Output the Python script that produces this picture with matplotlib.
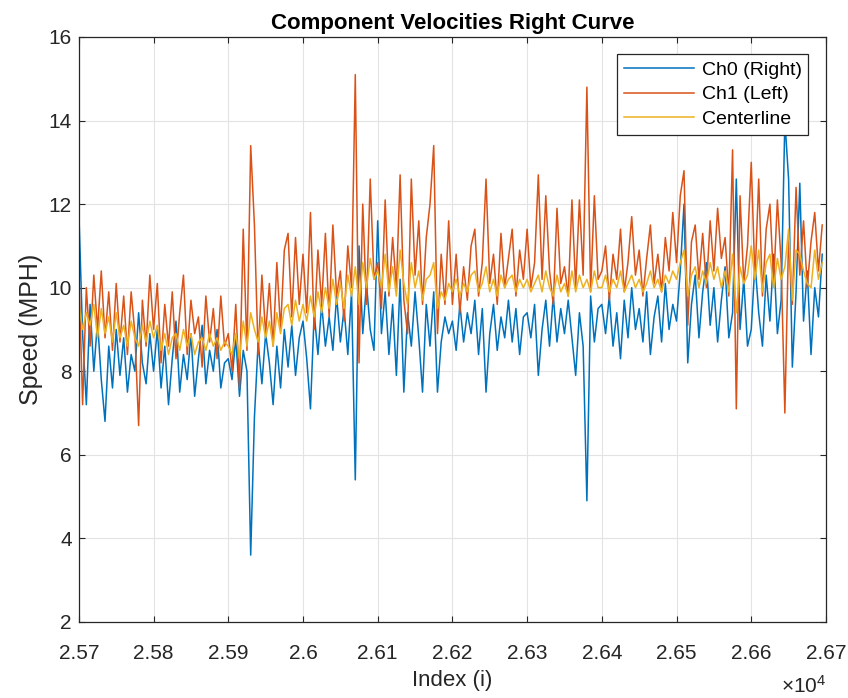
import numpy as np
import matplotlib
matplotlib.use("Agg")
import matplotlib.pyplot as plt
from matplotlib.ticker import FuncFormatter

plt.rcParams['font.family'] = ['Liberation Sans', 'DejaVu Sans']
plt.rcParams['mathtext.default'] = 'regular'

# sample index, one reading every 5 samples
start_idx = 25700
step = 5

ch0_right = [
    11.8, 8.9, 7.2, 9.6, 8.0, 9.2, 7.8, 6.8, 8.6, 7.6, 9.0, 7.9, 8.8, 7.5, 8.4, 8.0, 9.4, 8.2, 7.7, 8.9,
    8.0, 9.0, 7.6, 8.6, 7.2, 8.3, 9.2, 7.5, 8.4, 7.8, 8.9, 7.4, 8.3, 9.1, 7.7, 8.5, 8.0, 9.0, 7.6, 8.2,
    8.3, 7.8, 8.8, 7.4, 8.5, 8.0, 3.6, 6.9, 8.7, 7.7, 8.9, 8.2, 7.2, 8.6, 7.6, 9.0, 8.1, 9.1, 7.9, 8.8,
    9.2, 8.3, 7.1, 9.4, 8.4, 9.6, 8.6, 9.3, 8.5, 9.8, 8.7, 9.5, 8.4, 9.9, 5.4, 11.0, 8.9, 10.1, 9.0, 8.5,
    11.6, 8.9, 9.9, 8.4, 9.6, 7.9, 10.2, 7.5, 9.4, 8.6, 9.9, 8.8, 7.5, 9.6, 8.6, 9.9, 7.5, 8.7, 9.3, 8.9,
    9.2, 8.5, 9.6, 8.7, 9.4, 8.9, 9.7, 8.4, 9.5, 7.5, 8.9, 9.6, 8.5, 9.3, 8.8, 9.7, 8.7, 9.5, 8.4, 9.3,
    9.4, 8.8, 9.6, 7.9, 9.0, 9.7, 8.6, 9.8, 8.7, 9.5, 8.9, 9.7, 8.8, 7.9, 9.4, 8.6, 4.9, 9.8, 8.7, 9.5,
    9.6, 8.9, 9.8, 8.6, 9.4, 8.3, 9.7, 8.8, 10.0, 9.0, 9.5, 8.7, 9.9, 8.4, 9.3, 9.8, 8.7, 10.1, 9.0, 9.6,
    9.2, 10.4, 12.0, 8.2, 9.6, 10.3, 8.8, 9.9, 10.6, 9.1, 10.0, 8.7, 9.7, 10.5, 8.8, 9.4, 12.6, 9.0, 10.2, 8.6,
    9.0, 10.6, 9.4, 8.6, 10.3, 9.2, 10.8, 8.9, 9.7, 14.0, 12.6, 8.1, 9.9, 12.5, 9.2, 10.4, 8.4, 10.0, 9.3, 10.8,
]

ch1_left = [
    10.4, 7.2, 10.0, 8.6, 10.3, 9.0, 10.4, 8.8, 9.9, 8.5, 10.1, 8.7, 9.8, 8.4, 9.9, 8.9, 6.7, 9.7, 8.6, 10.3,
    9.0, 10.1, 8.2, 9.6, 8.6, 9.9, 8.3, 9.4, 10.3, 8.4, 9.7, 8.9, 9.3, 8.1, 9.8, 8.7, 9.5, 8.3, 9.8, 8.6,
    8.9, 8.0, 9.6, 7.6, 11.4, 8.5, 13.4, 11.5, 8.4, 10.3, 8.9, 10.1, 8.6, 10.6, 9.0, 10.9, 11.3, 9.3, 11.2, 9.6,
    10.8, 9.4, 11.8, 9.0, 10.9, 9.6, 11.3, 9.3, 11.5, 9.8, 10.4, 9.2, 11.0, 10.0, 15.1, 8.2, 12.0, 9.6, 12.6, 10.2,
    10.6, 9.5, 12.1, 9.8, 11.2, 10.0, 12.7, 9.7, 8.9, 12.6, 10.3, 11.6, 9.6, 11.2, 12.0, 13.4, 8.9, 10.8, 9.6, 11.6,
    9.6, 10.8, 9.4, 10.5, 9.7, 11.0, 11.4, 9.8, 10.6, 12.6, 10.1, 10.8, 9.6, 11.3, 10.0, 10.7, 11.4, 9.8, 10.9, 10.2,
    11.4, 10.0, 10.6, 12.7, 10.2, 12.2, 10.4, 9.6, 11.9, 10.1, 10.5, 9.8, 12.1, 10.0, 12.1, 10.3, 14.8, 9.9, 12.2, 10.2,
    10.4, 11.0, 9.7, 10.8, 10.2, 11.4, 9.9, 10.6, 11.7, 10.3, 10.9, 9.8, 10.7, 11.5, 10.1, 10.8, 9.9, 11.2, 10.4, 11.8,
    10.6, 12.2, 12.8, 9.1, 11.1, 11.5, 10.2, 11.3, 10.0, 11.6, 10.4, 11.9, 10.7, 11.2, 9.8, 13.3, 7.1, 12.2, 10.1, 11.0,
    13.0, 10.2, 12.6, 9.8, 11.4, 12.0, 10.1, 12.1, 10.6, 7.0, 11.2, 9.6, 12.4, 10.3, 11.6, 10.0, 11.1, 11.8, 10.4, 11.5,
]

centerline = [
    9.6, 9.0, 9.4, 9.1, 9.6, 8.8, 9.5, 8.9, 9.3, 8.7, 9.4, 8.8, 9.1, 8.6, 9.2, 8.8, 8.6, 9.1, 8.7, 9.2,
    8.8, 9.1, 8.5, 8.9, 8.4, 8.8, 8.9, 8.5, 9.0, 8.6, 8.9, 8.4, 8.7, 8.8, 8.5, 8.9, 8.6, 8.8, 8.5, 8.7,
    8.6, 8.4, 8.9, 8.3, 9.2, 8.6, 9.4, 9.0, 8.7, 9.3, 8.8, 9.2, 8.6, 9.4, 8.9, 9.5, 9.6, 9.1, 9.7, 9.2,
    9.6, 9.2, 9.8, 9.3, 9.9, 9.4, 10.0, 9.5, 10.2, 9.6, 10.1, 9.5, 10.3, 9.8, 10.5, 9.6, 10.6, 10.0, 10.7, 10.2,
    10.4, 10.0, 10.8, 9.9, 10.5, 9.8, 10.9, 10.1, 9.6, 10.6, 10.0, 10.4, 9.7, 10.2, 10.3, 10.6, 9.5, 9.9, 9.7, 10.1,
    9.9, 10.2, 9.8, 10.1, 9.9, 10.3, 10.4, 9.9, 10.1, 10.5, 9.9, 10.2, 9.8, 10.3, 10.0, 10.2, 10.3, 9.9, 10.2, 10.0,
    10.2, 9.9, 10.1, 10.3, 9.9, 10.4, 10.0, 9.8, 10.3, 9.9, 10.1, 9.8, 10.4, 9.9, 10.3, 10.0, 10.2, 9.9, 10.4, 10.0,
    10.0, 10.3, 9.9, 10.2, 10.0, 10.4, 9.9, 10.1, 10.3, 10.0, 10.2, 9.9, 10.1, 10.4, 10.0, 10.2, 9.9, 10.3, 10.1, 10.4,
    10.2, 10.6, 10.9, 9.8, 10.3, 10.5, 10.0, 10.4, 10.1, 10.6, 10.2, 10.5, 10.0, 10.4, 9.9, 10.8, 9.4, 10.5, 10.1, 10.3,
    11.0, 10.2, 10.9, 9.9, 10.6, 10.8, 10.0, 10.7, 10.2, 10.5, 11.4, 9.7, 10.9, 10.8, 10.4, 10.1, 10.0, 10.9, 10.2, 10.6,
]

x_ticks = [25700, 25800, 25900, 26000, 26100, 26200, 26300, 26400, 26500, 26600, 26700]
y_ticks = [2, 4, 6, 8, 10, 12, 14, 16]

idx = start_idx + step * np.arange(len(ch0_right))

fig = plt.figure(figsize=(8.48, 6.98), dpi=100)
ax = fig.add_axes([0.093, 0.109, 0.881, 0.838])

ax.plot(idx, ch0_right, color='#0072BD', lw=1.1, label='Ch0 (Right)')
ax.plot(idx, ch1_left, color='#D95319', lw=1.1, label='Ch1 (Left)')
ax.plot(idx, centerline, color='#EDB120', lw=1.1, label='Centerline')

ax.set_xlim(25700, 26700)
ax.set_ylim(2, 16)
ax.set_xticks(x_ticks)
ax.set_yticks(y_ticks)
ax.xaxis.set_major_formatter(FuncFormatter(lambda v, p: f"{v / 1e4:g}"))

ax.grid(True, color='#e3e3e3', lw=0.8)
ax.set_axisbelow(True)
for s in ax.spines.values():
    s.set_color('#262626')
    s.set_linewidth(0.9)
ax.tick_params(direction='in', top=True, right=True, length=4,
               labelsize=15, colors='#262626')
ax.tick_params(axis='x', pad=16)
ax.tick_params(axis='y', pad=5)

ax.set_title('Component Velocities Right Curve', fontsize=16, fontweight='bold', pad=6)
ax.set_xlabel('Index (i)', fontsize=16, color='#262626', labelpad=5)
ax.set_ylabel('Speed (MPH)', fontsize=18, color='#262626', labelpad=4)

fig.text(0.948, 0.008, r'$\times10^{4}$', fontsize=15, color='#262626', ha='center')

leg = ax.legend(loc='upper right', fontsize=14, handlelength=3.6, fancybox=False,
                framealpha=1, edgecolor='#262626', borderaxespad=0.9,
                labelspacing=0.35, handletextpad=0.4, borderpad=0.35)
leg.get_frame().set_linewidth(0.9)

plt.savefig('out.png', dpi=100)
